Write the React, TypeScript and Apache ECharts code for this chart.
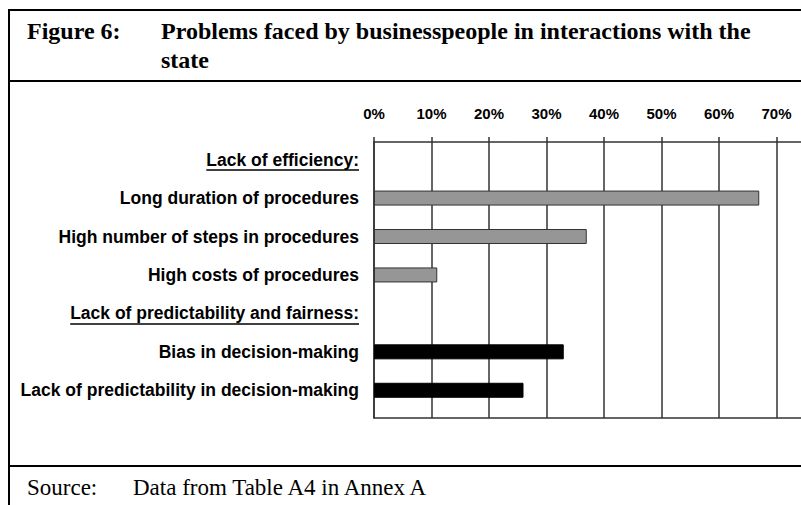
import React, { useEffect, useRef } from 'react';
import * as echarts from 'echarts';

const categories = [
  'Lack of efficiency:',
  'Long duration of procedures',
  'High number of steps in procedures',
  'High costs of procedures',
  'Lack of predictability and fairness:',
  'Bias in decision-making',
  'Lack of predictability in decision-making',
];
const values: (number | null)[] = [null, 67, 37, 11, null, 33, 26];
const groups = ['heading', 'efficiency', 'efficiency', 'efficiency', 'heading', 'fairness', 'fairness'];
const xMin = 0;
const xMax = 70;
const xInterval = 10;
const titleNumber = 'Figure 6:';
const titleLines = ['Problems faced by businesspeople in interactions with the', 'state'];
const sourceLabel = 'Source:';
const sourceText = 'Data from Table A4 in Annex A';

const W = 801;
const H = 505;
const SANS = '"Liberation Sans", Arial, sans-serif';
const SERIF = '"Liberation Serif", "Times New Roman", serif';
const LABEL_SIZE = 17.5;
const LINE = '#333';

const groupColor: Record<string, string> = { efficiency: '#969696', fairness: '#000000' };
const groupBorder: Record<string, string> = { efficiency: '#333333', fairness: '#000000' };

export default function App() {
  const ref = useRef<HTMLDivElement>(null);
  useEffect(() => {
    if (!ref.current) return;
    const chart = echarts.init(ref.current, undefined, { renderer: 'svg' });
    const plotLeft = 374;
    const plotRight = 24.5;
    const axisTop = 142;
    const axisBottom = 418;
    chart.setOption({
      animation: false,
      backgroundColor: '#ffffff',
      grid: [
        { left: plotLeft, right: plotRight, top: axisTop, bottom: H - axisBottom },
        { left: plotLeft, right: plotRight, top: 140.4, bottom: 95.5 },
      ],
      xAxis: [
        {
          gridIndex: 0,
          type: 'value',
          position: 'top',
          min: xMin,
          max: xMax,
          interval: xInterval,
          axisLine: { show: true, onZero: false, lineStyle: { color: LINE, width: 1.5 } },
          axisTick: { show: true, length: 5, lineStyle: { color: LINE, width: 1.5 } },
          axisLabel: {
            formatter: '{value}%',
            fontFamily: SANS,
            fontWeight: 'bold',
            fontSize: 15,
            color: '#000',
            margin: 21,
          },
          splitLine: { show: true, lineStyle: { color: LINE, width: 1.5 } },
        },
        {
          gridIndex: 0,
          type: 'value',
          position: 'bottom',
          min: xMin,
          max: xMax,
          interval: xInterval,
          axisLine: { show: true, onZero: false, lineStyle: { color: LINE, width: 1.5 } },
          axisTick: { show: false },
          axisLabel: { show: false },
          splitLine: { show: false },
        },
        { gridIndex: 1, type: 'value', min: xMin, max: xMax, show: false },
      ],
      yAxis: [
        {
          gridIndex: 0,
          type: 'value',
          min: 0,
          max: 1,
          axisLine: { show: true, onZero: false, lineStyle: { color: LINE, width: 1.5 } },
          axisTick: { show: false },
          axisLabel: { show: false },
          splitLine: { show: false },
        },
        {
          gridIndex: 1,
          type: 'category',
          data: categories,
          inverse: true,
          axisLine: { show: false },
          axisTick: { show: false },
          axisLabel: {
            margin: 15,
            fontFamily: SANS,
            fontWeight: 'bold',
            fontSize: LABEL_SIZE,
            color: '#000',
          },
          splitLine: { show: false },
        },
      ],
      series: [
        {
          type: 'bar',
          xAxisIndex: 2,
          yAxisIndex: 1,
          barWidth: 15,
          data: values.map((v, i) => ({
            value: v === null ? '-' : v,
            itemStyle: {
              color: groupColor[groups[i]] || '#000',
              borderColor: groupBorder[groups[i]] || '#000',
              borderWidth: 1,
            },
          })),
        },
      ],
    });

    // underline headings
    const canvas = document.createElement('canvas');
    const ctx = canvas.getContext('2d')!;
    ctx.font = `bold ${LABEL_SIZE}px ${SANS}`;
    const labelRight = plotLeft - 15;
    const underlines: any[] = [];
    categories.forEach((c, i) => {
      if (groups[i] !== 'heading') return;
      const y = chart.convertToPixel({ yAxisIndex: 1 } as any, c) as unknown as number;
      const w = ctx.measureText(c).width;
      underlines.push({
        type: 'line',
        shape: { x1: labelRight - w, y1: y + 10.5, x2: labelRight, y2: y + 10.5 },
        style: { stroke: '#000', lineWidth: 1.5 },
        silent: true,
      });
    });

    const xEnd = W - plotRight;
    chart.setOption({
      graphic: [
        // frame
        { type: 'line', shape: { x1: 9, y1: 10, x2: W, y2: 10 }, style: { stroke: '#000', lineWidth: 2 } },
        { type: 'line', shape: { x1: 9, y1: 9, x2: 9, y2: H }, style: { stroke: '#000', lineWidth: 2 } },
        { type: 'line', shape: { x1: 9, y1: 81, x2: W, y2: 81 }, style: { stroke: '#000', lineWidth: 2 } },
        { type: 'line', shape: { x1: 9, y1: 466, x2: W, y2: 466 }, style: { stroke: '#000', lineWidth: 2 } },
        // axis extensions
        { type: 'line', shape: { x1: xEnd, y1: axisTop, x2: W, y2: axisTop }, style: { stroke: LINE, lineWidth: 1.5 } },
        { type: 'line', shape: { x1: xEnd, y1: axisBottom, x2: W, y2: axisBottom }, style: { stroke: LINE, lineWidth: 1.5 } },
        // title
        {
          type: 'text', x: 27, y: 31,
          style: { text: titleNumber, font: `bold 24px ${SERIF}`, fill: '#000', verticalAlign: 'middle' },
        },
        {
          type: 'text', x: 161, y: 31,
          style: { text: titleLines[0], font: `bold 24px ${SERIF}`, fill: '#000', verticalAlign: 'middle' },
        },
        {
          type: 'text', x: 161, y: 60,
          style: { text: titleLines[1], font: `bold 24px ${SERIF}`, fill: '#000', verticalAlign: 'middle' },
        },
        // source
        {
          type: 'text', x: 27, y: 487,
          style: { text: sourceLabel, font: `23px ${SERIF}`, fill: '#000', verticalAlign: 'middle' },
        },
        {
          type: 'text', x: 133, y: 487,
          style: { text: sourceText, font: `23px ${SERIF}`, fill: '#000', verticalAlign: 'middle' },
        },
        ...underlines,
      ],
    });

    return () => chart.dispose();
  }, []);
  return (
    <div
      ref={ref}
      style={{ position: 'fixed', left: 0, top: 0, width: W, height: H, background: '#fff' }}
    />
  );
}
